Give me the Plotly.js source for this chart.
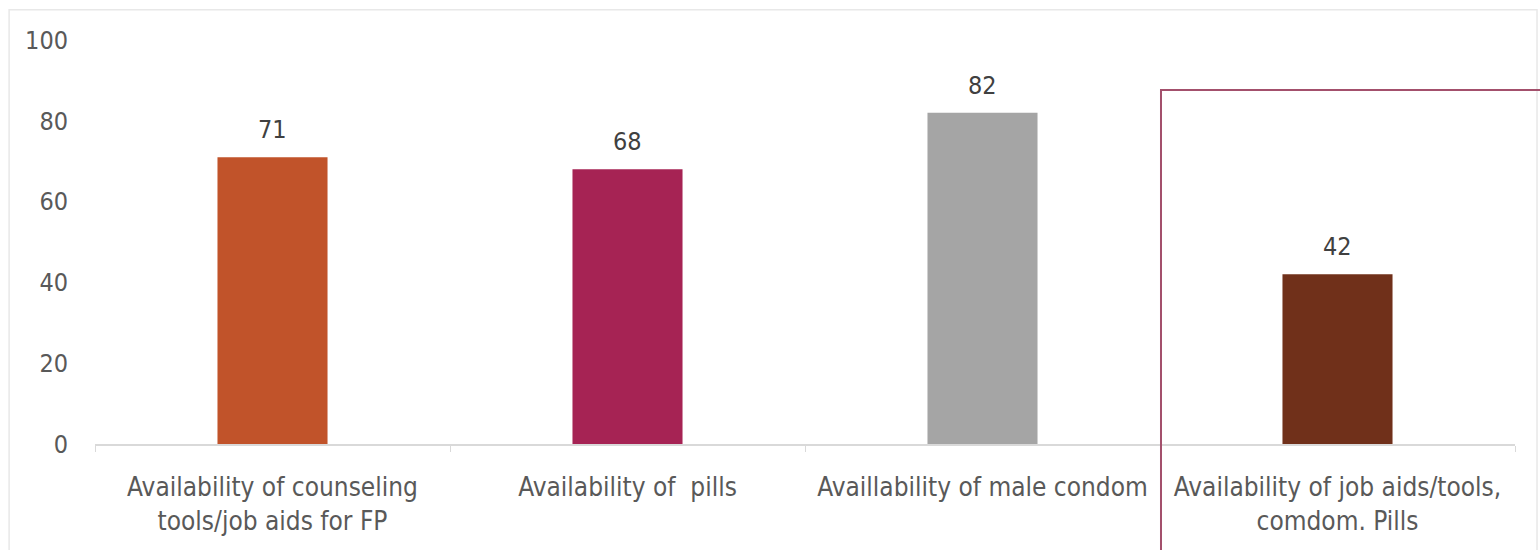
<!DOCTYPE html>
<html>
<head>
<meta charset="utf-8">
<script src="https://cdn.plot.ly/plotly-3.0.1.min.js"></script>
<style>
  html, body { margin: 0; padding: 0; background: #ffffff; }
  #chart { width: 1540px; height: 550px; }
</style>
</head>
<body>
<div id="chart"></div>
<script>
// Family planning readiness indicators (%)
const categories = [
  "Availability of counseling<br>tools/job aids for FP",
  "Availability of  pills",
  "Availlability of male condom",
  "Availability of job aids/tools,<br>comdom. Pills"
];
const values = [71, 68, 82, 42];
const barColors = ["#C1532A", "#A62354", "#A5A5A5", "#70301A"];
const yTicks = [0, 20, 40, 60, 80, 100];

const font = "DejaVu Sans Condensed, Tahoma, sans-serif";
const textGray = "#595959";

const trace = {
  type: "bar",
  x: categories,
  y: values,
  marker: { color: barColors },
  width: 0.31,
  hoverinfo: "x+y"
};

// value labels above each bar
const valueLabels = categories.map((c, i) => ({
  x: c,
  y: values[i],
  xref: "x",
  yref: "y",
  text: String(values[i]),
  showarrow: false,
  yanchor: "bottom",
  yshift: 11,
  font: { family: font, size: 25, color: "#404040" }
}));

const layout = {
  width: 1540,
  height: 550,
  margin: { l: 95, r: 25, t: 40, b: 106 },
  paper_bgcolor: "#ffffff",
  plot_bgcolor: "#ffffff",
  showlegend: false,
  bargap: 0.69,
  font: { family: font, color: textGray },
  xaxis: {
    type: "category",
    showgrid: false,
    showline: true,
    linecolor: "#D9D9D9",
    linewidth: 1.5,
    ticks: "outside",
    tickson: "boundaries",
    ticklen: 6,
    tickcolor: "#D9D9D9",
    ticklabelstandoff: 19,
    tickfont: { family: font, size: 26, color: textGray },
    zeroline: false
  },
  yaxis: {
    range: [0, 100],
    tickvals: yTicks,
    ticktext: yTicks.map(String),
    showgrid: false,
    zeroline: false,
    showline: false,
    ticks: "",
    ticklabelstandoff: 26,
    tickfont: { family: font, size: 25, color: textGray }
  },
  annotations: valueLabels,
  shapes: [
    // light frame around the chart area
    {
      type: "rect", xref: "paper", yref: "paper",
      x0: -0.0605, x1: 1.0155, y0: -0.30, y1: 1.075,
      line: { color: "#E8E8E8", width: 1.5 }, fillcolor: "rgba(0,0,0,0)"
    },
    // highlight box around the last category
    {
      type: "rect", xref: "paper", yref: "paper",
      x0: 0.7507, x1: 1.04, y0: -0.32, y1: 0.876,
      line: { color: "#A3506C", width: 2 }, fillcolor: "rgba(0,0,0,0)"
    }
  ]
};

Plotly.newPlot("chart", [trace], layout, { displayModeBar: false, staticPlot: true });
</script>
</body>
</html>
